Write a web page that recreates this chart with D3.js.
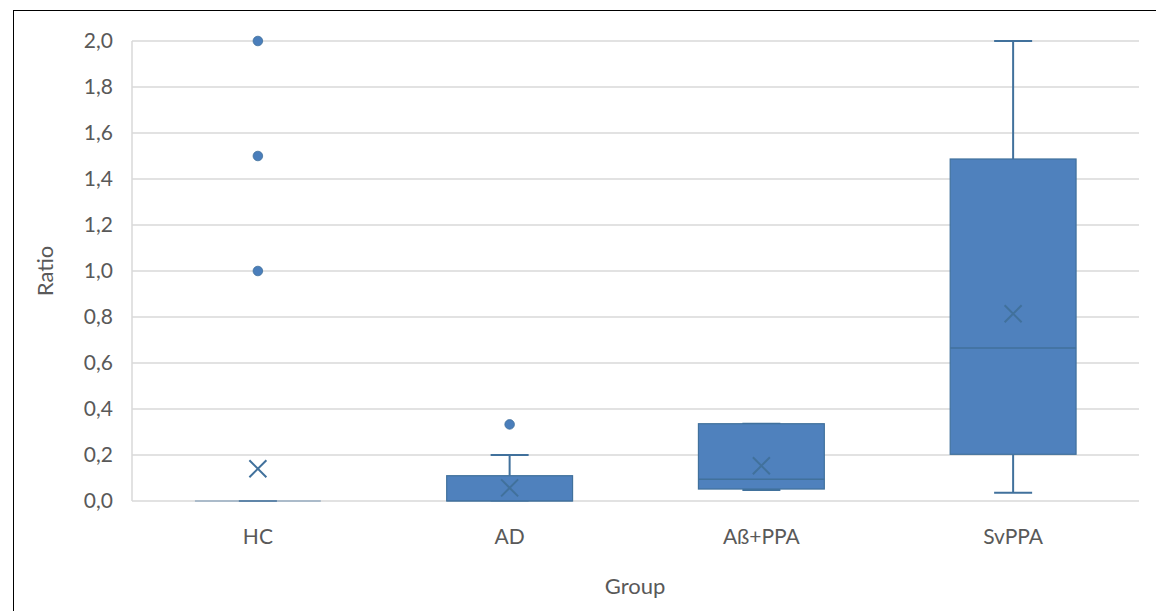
<!DOCTYPE html>
<html>
<head>
<meta charset="utf-8">
<script src="https://cdn.jsdelivr.net/npm/d3@7"></script>
<style>
  html, body { margin: 0; padding: 0; background: #fff; }
  svg { display: block; }
  text { font-family: Lato, "Open Sans", sans-serif; fill: #595959; }
</style>
</head>
<body>
<svg id="chart" width="1156" height="611"></svg>
<script>
// ---- data ----
const groups      = ["HC", "AD", "Aß+PPA", "SvPPA"];
const whiskerLow  = [0,    0,     0.048, 0.036];
const q1          = [0,    0,     0.052, 0.203];
const median      = [0,    0,     0.095, 0.665];
const q3          = [0,    0.11,  0.336, 1.487];
const whiskerHigh = [0,    0.2,   0.336, 2.0];
const means       = [0.14, 0.057, 0.153, 0.814];
const outliers    = [[1.0, 1.5, 2.0], [0.333], [], []];
const yTicks      = [0, 0.2, 0.4, 0.6, 0.8, 1.0, 1.2, 1.4, 1.6, 1.8, 2.0];
const yTitle = "Ratio";
const xTitle = "Group";

// ---- layout ----
const svg = d3.select("#chart");
const W = 1156, H = 611;
const plot = { left: 132, right: 1139, top: 41, bottom: 501 };
const fill = "#4F81BD", stroke = "#41719C";

// outer border
svg.append("rect")
  .attr("x", 13.5).attr("y", 10.5)
  .attr("width", W + 20).attr("height", H + 20)
  .attr("fill", "none").attr("stroke", "#000").attr("stroke-width", 1);

const y = d3.scaleLinear().domain([0, 2]).range([plot.bottom, plot.top]);
const x = d3.scaleBand().domain(groups).range([plot.left, plot.right]).padding(0);

// gridlines
svg.append("g").selectAll("line").data(yTicks).join("line")
  .attr("x1", plot.left).attr("x2", plot.right)
  .attr("y1", d => y(d)).attr("y2", d => y(d))
  .attr("stroke", "#D9D9D9").attr("stroke-width", 1.5);

// left axis line
svg.append("line")
  .attr("x1", plot.left).attr("x2", plot.left)
  .attr("y1", plot.top).attr("y2", plot.bottom)
  .attr("stroke", "#D9D9D9").attr("stroke-width", 1.5);

// y axis labels
const yAxis = d3.axisLeft(y).tickValues(yTicks)
  .tickFormat(d => d3.format(".1f")(d).replace(".", ","))
  .tickSize(0).tickPadding(19);
const gy = svg.append("g").attr("transform", `translate(${plot.left},0)`).call(yAxis);
gy.select(".domain").remove();
gy.selectAll("text").style("font-size", "21px").attr("fill", "#595959")
  .style("font-family", "Lato, 'Open Sans', sans-serif");

// x axis labels
const xAxis = d3.axisBottom(x).tickSize(0).tickPadding(0);
const gx = svg.append("g").attr("transform", `translate(0,${plot.bottom})`).call(xAxis);
gx.select(".domain").remove();
gx.selectAll("text").attr("dy", null).attr("y", 43)
  .style("font-size", "21px").attr("fill", "#595959")
  .style("font-family", "Lato, 'Open Sans', sans-serif");

// axis titles
svg.append("text").attr("x", 635).attr("y", 594)
  .attr("text-anchor", "middle").style("font-size", "22px").text(xTitle);
svg.append("text")
  .attr("transform", `translate(53,${(plot.top + plot.bottom) / 2}) rotate(-90)`)
  .attr("text-anchor", "middle").style("font-size", "22px").text(yTitle);

// boxes
const boxW = x.bandwidth() * 0.5;
const capW = 38;
const g = svg.append("g");
groups.forEach((grp, i) => {
  const cx = x(grp) + x.bandwidth() / 2;
  const gg = g.append("g");
  // whiskers
  if (whiskerHigh[i] > q3[i]) {
    gg.append("line").attr("x1", cx).attr("x2", cx)
      .attr("y1", y(q3[i])).attr("y2", y(whiskerHigh[i]))
      .attr("stroke", stroke).attr("stroke-width", 2);
  }
  if (whiskerLow[i] < q1[i]) {
    gg.append("line").attr("x1", cx).attr("x2", cx)
      .attr("y1", y(q1[i])).attr("y2", y(whiskerLow[i]))
      .attr("stroke", stroke).attr("stroke-width", 2);
  }
  [whiskerLow[i], whiskerHigh[i]].forEach(v => {
    gg.append("line").attr("x1", cx - capW / 2).attr("x2", cx + capW / 2)
      .attr("y1", y(v)).attr("y2", y(v))
      .attr("stroke", stroke).attr("stroke-width", 2)
      .attr("opacity", v === 0 ? 0.45 : 1);
  });
  const hBox = y(q1[i]) - y(q3[i]);
  if (hBox > 0) {
    gg.append("rect")
      .attr("x", cx - boxW / 2).attr("y", y(q3[i]))
      .attr("width", boxW).attr("height", hBox)
      .attr("fill", fill).attr("stroke", stroke).attr("stroke-width", 1.2);
  }
  // median
  gg.append("line").attr("x1", cx - boxW / 2).attr("x2", cx + boxW / 2)
    .attr("y1", y(median[i])).attr("y2", y(median[i]))
    .attr("stroke", stroke).attr("stroke-width", 1.5)
    .attr("opacity", median[i] === 0 ? 0.45 : 1);
  // mean X
  const my = y(means[i]), s = 8.5;
  gg.append("path")
    .attr("d", `M${cx - s},${my - s}L${cx + s},${my + s}M${cx - s},${my + s}L${cx + s},${my - s}`)
    .attr("stroke", stroke).attr("stroke-width", 2).attr("fill", "none");
  // outliers
  gg.selectAll("circle").data(outliers[i]).join("circle")
    .attr("cx", cx).attr("cy", d => y(d)).attr("r", 4.8)
    .attr("fill", "#4A7EBB").attr("stroke", "#41719C").attr("stroke-width", 0.8);
});
</script>
</body>
</html>
